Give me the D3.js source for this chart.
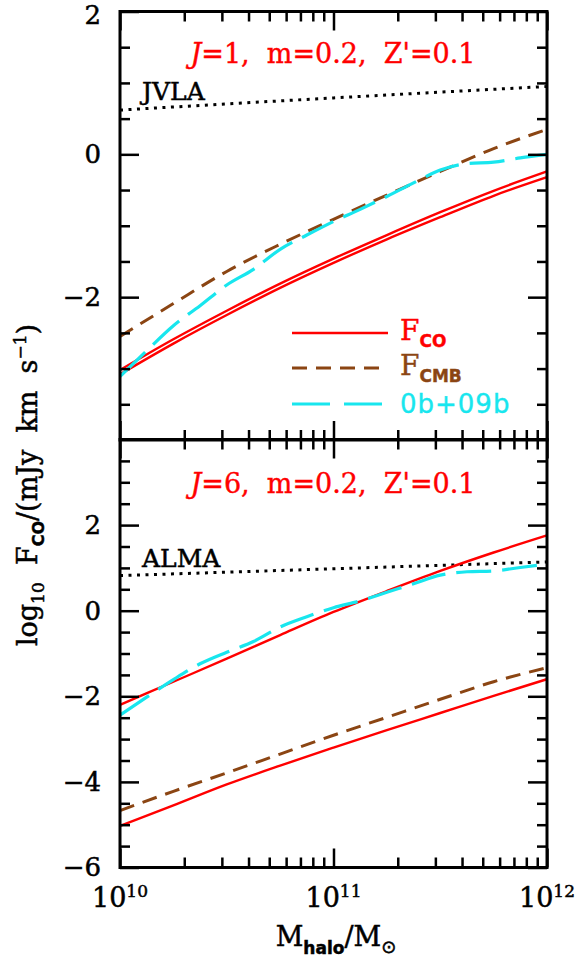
<!DOCTYPE html>
<html>
<head>
<meta charset="utf-8">
<script src="https://cdn.jsdelivr.net/npm/d3@7"></script>
<style>
body { margin: 0; background: #fff; }
svg text { white-space: pre; }
</style>
</head>
<body>
<div id="chart"></div>
<script>
// halo mass grids, log10(M/Msun)
var logM = [10, 10.25, 10.5, 10.75, 11, 11.25, 11.5, 11.75, 12];
var logMFine = [10, 10.125, 10.25, 10.375, 10.5, 10.625, 10.75, 10.875, 11,
  11.125, 11.25, 11.375, 11.5, 11.625, 11.75, 11.875, 12];
var logMSens = [10, 11, 12];

// J=1 panel, log10 F
var j1FcoHigh = [-3.02, -2.59, -2.19, -1.81, -1.46, -1.13, -0.81, -0.51, -0.24];
var j1FcoLow = [-3.08, -2.65, -2.25, -1.87, -1.52, -1.19, -0.88, -0.58, -0.32];
var j1Fcmb = [-2.55, -2.09, -1.64, -1.26, -0.91, -0.57, -0.24, 0.08, 0.35];
var j1Ob = [-3.11, -2.75, -2.40, -2.12, -1.83, -1.61, -1.33, -1.13, -0.94,
  -0.77, -0.59, -0.40, -0.22, -0.13, -0.11, -0.05, 0.0];
var j1Jvla = [0.62, 0.79, 0.95];

// J=6 panel
var j6FcoHigh = [-2.20, -1.66, -1.12, -0.57, -0.03, 0.46, 0.93, 1.36, 1.76];
var j6FcoLow = [-5.03, -4.55, -4.06, -3.62, -3.20, -2.79, -2.39, -1.99, -1.60];
var j6Fcmb = [-4.67, -4.22, -3.79, -3.35, -2.91, -2.49, -2.07, -1.66, -1.33];
var j6Ob = [-2.44, -2.02, -1.61, -1.24, -0.97, -0.72, -0.38, -0.14, 0.07,
  0.23, 0.43, 0.63, 0.83, 0.91, 0.93, 1.01, 1.09];
var j6Alma = [0.82, 0.98, 1.14];

// axis ticks
var xMajor = [1e10, 1e11, 1e12];
var xMinor = [2, 3, 4, 5, 6, 7, 8, 9].map(function(k) { return k * 1e10; })
  .concat([2, 3, 4, 5, 6, 7, 8, 9].map(function(k) { return k * 1e11; }));
var topMajor = [2, 0, -2], topLabels = [2, 0, -2];
var topMinor = [1.5, 1, 0.5, -0.5, -1, -1.5, -2.5, -3, -3.5];
var botMajor = [2, 0, -2, -4, -6], botLabels = [2, 0, -2, -4, -6];
var botMinor = [3.5, 3, 2.5, 1.5, 1, 0.5, -0.5, -1, -1.5, -2.5, -3, -3.5, -4.5, -5, -5.5];

var RED = '#ff0000', BROWN = '#8b4513', CYAN = '#18e6ee';
var SERIF = 'DejaVu Serif', SANS = 'DejaVu Sans';

var svg = d3.select('#chart').append('svg')
  .attr('width', 579).attr('height', 962);

var x = d3.scaleLog().domain([1e10, 1e12]).range([120, 547]);
var yTop = d3.scaleLinear().domain([-4, 2]).range([440, 11.5]);
var yBot = d3.scaleLinear().domain([-6, 4]).range([867.5, 439.5]);

function styleAxis(g) {
  g.select('.domain').remove();
  g.selectAll('.tick line').attr('stroke', '#000').attr('stroke-width', 2.5);
  g.selectAll('.tick text').attr('font-family', SERIF).attr('font-size', 26)
    .attr('fill', '#000').attr('stroke', '#000').attr('stroke-width', 0.5);
}

function drawFrame(y, yMajor, yMinor, yLabels) {
  var yb = y.range()[0], yt = y.range()[1];
  var fmt = d3.format('d');
  // left
  svg.append('g').attr('transform', 'translate(120,0)')
    .call(d3.axisLeft(y).tickValues(yMajor).tickSize(-19).tickSizeOuter(0).tickPadding(19)
      .tickFormat(function(d) { return yLabels.indexOf(d) >= 0 ? fmt(d) : ''; }))
    .call(styleAxis)
    .call(function(g) {
      // keep the corner label inside the picture
      g.selectAll('.tick text').filter(function(d) { return y(d) < 20; }).attr('dy', '0.45em');
    });
  svg.append('g').attr('transform', 'translate(120,0)')
    .call(d3.axisLeft(y).tickValues(yMinor).tickSize(-10).tickFormat(''))
    .call(styleAxis);
  // right
  svg.append('g').attr('transform', 'translate(547,0)')
    .call(d3.axisRight(y).tickValues(yMajor).tickSize(-19).tickFormat(''))
    .call(styleAxis);
  svg.append('g').attr('transform', 'translate(547,0)')
    .call(d3.axisRight(y).tickValues(yMinor).tickSize(-10).tickFormat(''))
    .call(styleAxis);
  // top and bottom
  [[yt, d3.axisTop], [yb, d3.axisBottom]].forEach(function(p) {
    svg.append('g').attr('transform', 'translate(0,' + p[0] + ')')
      .call(p[1](x).tickValues(xMajor).tickSize(-19).tickFormat(''))
      .call(styleAxis);
    svg.append('g').attr('transform', 'translate(0,' + p[0] + ')')
      .call(p[1](x).tickValues(xMinor).tickSize(-10).tickFormat(''))
      .call(styleAxis);
  });
  svg.append('rect')
    .attr('x', 120).attr('y', yt).attr('width', 427).attr('height', yb - yt)
    .attr('fill', 'none').attr('stroke', '#000').attr('stroke-width', 3);
}

function curve(y, xs, ys, color, width, dash) {
  var line = d3.line()
    .x(function(d) { return x(Math.pow(10, d[0])); })
    .y(function(d) { return y(d[1]); })
    .curve(d3.curveMonotoneX);
  svg.append('path')
    .attr('d', line(d3.zip(xs, ys)))
    .attr('fill', 'none')
    .attr('stroke', color)
    .attr('stroke-width', width)
    .attr('stroke-dasharray', dash || null);
}

// top panel, J=1
curve(yTop, logMSens, j1Jvla, '#000', 3, '3,5.5');
curve(yTop, logM, j1FcoHigh, RED, 2.4);
curve(yTop, logM, j1FcoLow, RED, 2.4);
curve(yTop, logM, j1Fcmb, BROWN, 3, '15,9');
curve(yTop, logMFine, j1Ob, CYAN, 3.2, '35,11');
drawFrame(yTop, topMajor, topMinor, topLabels);

// bottom panel, J=6
curve(yBot, logMSens, j6Alma, '#000', 3, '3,5.5');
curve(yBot, logM, j6FcoHigh, RED, 2.4);
curve(yBot, logM, j6FcoLow, RED, 2.4);
curve(yBot, logM, j6Fcmb, BROWN, 3, '15,9');
curve(yBot, logMFine, j6Ob, CYAN, 3.2, '35,11');
drawFrame(yBot, botMajor, botMinor, botLabels);

// x tick labels 10^n
svg.selectAll('.xlab').data(xMajor).enter().append('text')
  .attr('class', 'xlab')
  .attr('x', function(d) { return x(d); })
  .attr('y', 907)
  .attr('text-anchor', 'middle')
  .attr('font-family', SERIF).attr('font-size', 27)
  .attr('stroke', '#000').attr('stroke-width', 0.5)
  .each(function(d) {
    var t = d3.select(this);
    t.append('tspan').text('10');
    t.append('tspan').attr('dy', -10).attr('font-size', 17).text(Math.round(Math.log10(d)));
  });

// panel titles
function panelTitle(yBase, j) {
  var t = svg.append('text')
    .attr('x', 333).attr('y', yBase).attr('text-anchor', 'middle')
    .attr('font-family', SERIF).attr('font-size', 27).attr('fill', RED)
    .attr('stroke', RED).attr('stroke-width', 0.4);
  t.append('tspan').attr('font-style', 'italic').text('J');
  t.append('tspan').text('=' + j + ',  m=0.2,  Z\'=0.1');
}
panelTitle(63, 1);
panelTitle(493, 6);

// sensitivity labels
svg.append('text').attr('x', 142).attr('y', 100)
  .attr('font-family', SERIF).attr('font-size', 25)
  .attr('stroke', '#000').attr('stroke-width', 0.5).text('JVLA');
svg.append('text').attr('x', 142).attr('y', 567)
  .attr('font-family', SERIF).attr('font-size', 25)
  .attr('stroke', '#000').attr('stroke-width', 0.5).text('ALMA');

// legend
var legend = [
  { y: 333, color: RED, width: 2.4, dash: null, main: 'F', sub: 'CO' },
  { y: 368, color: BROWN, width: 3, dash: '15,9', main: 'F', sub: 'CMB' },
  { y: 404, color: CYAN, width: 3.2, dash: '38,14', main: '0b+09b', sub: '' }
];
legend.forEach(function(d) {
  svg.append('line')
    .attr('x1', 292).attr('x2', 388).attr('y1', d.y).attr('y2', d.y)
    .attr('stroke', d.color).attr('stroke-width', d.width)
    .attr('stroke-dasharray', d.dash);
  var t = svg.append('text').attr('x', 400).attr('fill', d.color)
    .attr('stroke', d.color).attr('stroke-width', 0.4);
  if (d.sub) {
    t.attr('y', d.y + 7).attr('font-family', SERIF).attr('font-size', 28);
    t.append('tspan').text(d.main);
    t.append('tspan').attr('dy', 7).attr('font-family', SANS).attr('font-weight', 'bold')
      .attr('font-size', 17).text(d.sub);
  } else {
    t.attr('y', d.y + 9).attr('font-family', SANS).attr('font-size', 26)
      .attr('letter-spacing', 1).text(d.main);
  }
});

// axis titles
var xt = svg.append('text').attr('x', 336).attr('y', 946).attr('text-anchor', 'middle')
  .attr('font-family', SERIF).attr('font-size', 27)
  .attr('stroke', '#000').attr('stroke-width', 0.5);
xt.append('tspan').text('M');
xt.append('tspan').attr('dy', 8).attr('font-family', SANS).attr('font-weight', 'bold')
  .attr('font-size', 17).text('halo');
xt.append('tspan').attr('dy', -8).text('/M');
xt.append('tspan').attr('dy', 7).attr('font-family', SANS).attr('font-size', 18).text('\u2299');

var yt = svg.append('text').attr('transform', 'translate(37,485) rotate(-90)')
  .attr('text-anchor', 'middle').attr('font-family', SERIF).attr('font-size', 27)
  .attr('stroke', '#000').attr('stroke-width', 0.5);
yt.append('tspan').text('log');
yt.append('tspan').attr('dy', 7).attr('font-size', 17).text('10');
yt.append('tspan').attr('dy', -7).text('  F');
yt.append('tspan').attr('dy', 7).attr('font-family', SANS).attr('font-weight', 'bold')
  .attr('font-size', 16).text('CO');
yt.append('tspan').attr('dy', -7).text('/(mJy  km  s');
yt.append('tspan').attr('dy', -11).attr('font-size', 17).text('\u22121');
yt.append('tspan').attr('dy', 11).text(')');
</script>
</body>
</html>
